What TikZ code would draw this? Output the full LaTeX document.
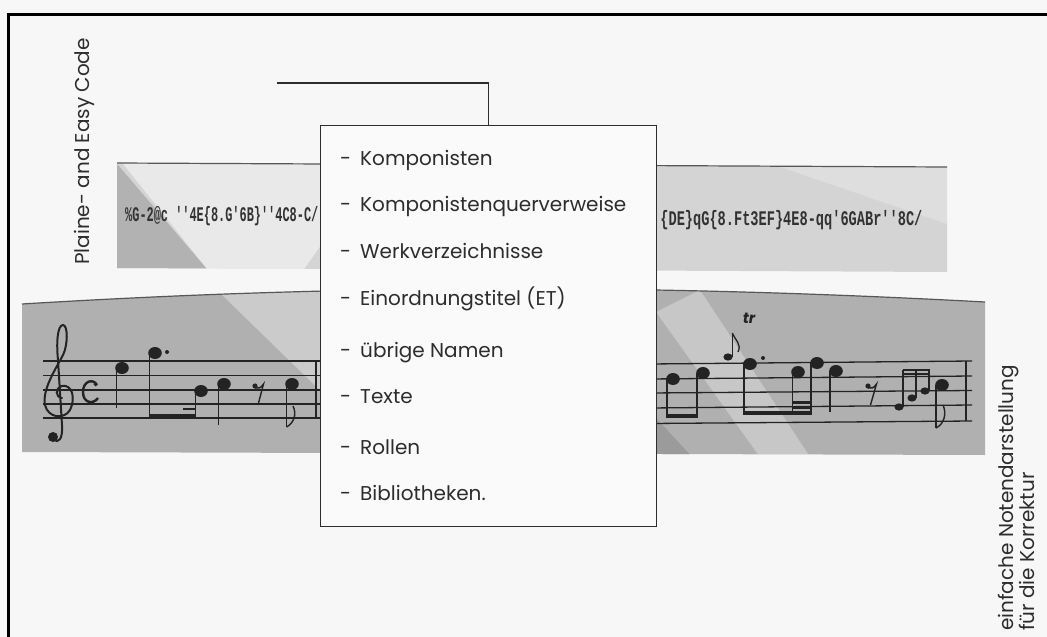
\documentclass[tikz,border=0pt]{standalone}
\usepackage{fontspec}
\usepackage{graphicx}
\setmainfont{Poppins}
\newfontfamily\codefont{Liberation Mono}
\definecolor{bg}{RGB}{247,247,247}
\definecolor{ink}{RGB}{45,45,45}
\definecolor{notec}{RGB}{35,35,35}
\definecolor{codec}{RGB}{50,50,50}
\definecolor{stripA}{RGB}{212,212,212}
\definecolor{stripAdark}{RGB}{178,178,178}
\definecolor{stripB}{RGB}{176,176,176}
\definecolor{stripBdark}{RGB}{155,155,155}
\definecolor{boxfill}{RGB}{250,250,250}
\newcommand\nhead[2]{\fill[notec] (#1,#2) ellipse [x radius=6.8, y radius=6];}
\newcommand\ghead[2]{\fill[notec] (#1,#2) ellipse [x radius=4.6, y radius=3.6];}
\begin{document}
\begin{tikzpicture}[x=1pt,y=-1pt,
  item/.style={anchor=base west, inner sep=0, text=ink, font=\fontsize{20}{22}\selectfont},
  vlabel/.style={anchor=base west, inner sep=0, rotate=90, text=ink, font=\fontsize{20}{22}\selectfont},
  staffline/.style={line width=1.3pt, draw=notec},
  stemline/.style={line width=1.2pt, draw=notec},
  beamline/.style={line width=4pt, draw=notec},
  thinbeam/.style={line width=2.4pt, draw=notec},
  conn/.style={line width=1.3pt, draw=ink},
  codetext/.style={anchor=base west, inner sep=0, text=codec, font=\codefont\bfseries\fontsize{16}{18}\selectfont},
]
\useasboundingbox (0,0) rectangle (1047,637);
\fill[bg] (0,0) rectangle (1047,637);
% frame
\draw[line width=2.8pt, black] (8.7,637) -- (8.7,14.5) -- (1047,14.5);

% ---- code strip ----
\fill[stripA] (117,163) -- (947,167) -- (947,272) -- (117,268) -- cycle;
\begin{scope}
  \clip (117,163) -- (947,167) -- (947,272) -- (117,268) -- cycle;
  \fill[white, opacity=0.5] (120,160) -- (335,160) -- (335,225) -- (300,275) -- (212,275) -- cycle;
  \fill[stripAdark] (110,165) -- (118,165) -- (212,275) -- (110,275) -- cycle;
  \fill[white, opacity=0.25] (760,160) -- (950,160) -- (950,225) -- cycle;
\end{scope}
\draw[line width=1.2pt, draw=ink!80] (117,163) -- (947,167);

% ---- staff strip ----
\fill[stripB] (22,304) .. controls (350,284) and (650,284) .. (985,302) -- (985,455) -- (22,452) -- cycle;
\begin{scope}
  \clip (22,304) .. controls (350,284) and (650,284) .. (985,302) -- (985,455) -- (22,452) -- cycle;
  \fill[white, opacity=0.35] (217,290) -- (335,285) -- (335,405) -- cycle;
  \fill[white, opacity=0.3] (656,312) -- (700,290) -- (812,460) -- (762,460) -- cycle;
  \fill[stripBdark] (656,418) -- (656,460) -- (695,460) -- cycle;
\end{scope}
\draw[line width=1.2pt, draw=ink!80] (22,304) .. controls (350,284) and (650,284) .. (985,302);

% left staff
\foreach \yy in {361,375.5,390,404,418} \draw[staffline] (43,\yy) -- (330,\yy);
\draw[stemline] (316,361) -- (316,418);
% treble clef
\draw[line width=2pt, notec, line cap=round]
  (62,398) .. controls (55,397) and (55,388) .. (62,386)
  .. controls (72,384) and (76,398) .. (70,410)
  .. controls (64,420) and (48,418) .. (45,405)
  .. controls (42,390) and (55,370) .. (63,355)
  .. controls (68,345) and (68,325) .. (63,325)
  .. controls (58,325) and (56,340) .. (58,360)
  -- (62,425) .. controls (63,440) and (58,443) .. (54,440);
\fill[notec] (53,437) circle [radius=5];
% common time
\draw[line width=2.4pt, notec] (97,385) .. controls (93,378) and (83,381) .. (83,392) .. controls (83,403) and (93,405) .. (98,398);
\fill[notec] (95.5,384.5) circle [radius=1.8];
% notes
\nhead{122}{368} \draw[stemline] (116.5,368) -- (116.5,408);
\nhead{155}{353} \fill[notec] (167,352) circle [radius=2];
\draw[stemline] (149.5,353) -- (149.5,418);
\nhead{201}{391} \draw[stemline] (195.5,391) -- (195.5,418);
\draw[beamline] (149,416) -- (196,416);
\draw[thinbeam] (183,409) -- (196,409);
\nhead{224}{384} \draw[stemline] (218.5,384) -- (218.5,425);
% eighth rest
\fill[notec] (255,386) circle [radius=2.6];
\draw[line width=1.4pt, notec] (255,388) .. controls (258,389) and (261,388) .. (263.5,384) -- (258,405);
\nhead{292}{384} \draw[stemline] (286.5,384) -- (286.5,427);
\draw[line width=1.4pt, notec] (286.5,427) .. controls (294,423) and (297,414) .. (293,406);

% right staff
\foreach \ya/\yb in {364/361,379/376,393/390.5,408/405,423.5/421} \draw[staffline] (650,\ya) -- (972,\yb);
\draw[stemline] (966,361) -- (966,421);
\nhead{673}{379} \draw[stemline] (667,379) -- (667,418);
\nhead{703}{373} \draw[stemline] (697,373) -- (697,418);
\draw[beamline] (666.5,416) -- (697.5,416);
% grace eighth
\ghead{728}{357} \draw[stemline] (732.3,357) -- (732.3,333);
\draw[line width=1.3pt, notec] (732.3,333) .. controls (735,340) and (742,344) .. (738,352);
\node[text=notec, inner sep=0, font=\itshape\bfseries\fontsize{15}{15}\selectfont] (tr) at (749,318) {tr};
\nhead{750}{364} \fill[notec] (763,358) circle [radius=2];
\draw[stemline] (744,364) -- (744,415);
\nhead{798}{372} \draw[stemline] (792.5,372) -- (792.5,415);
\nhead{817}{363} \draw[stemline] (811,363) -- (811,415);
\draw[beamline] (743.5,413) -- (811.5,413);
\draw[thinbeam] (792.5,407.5) -- (811.5,407.5);
\draw[thinbeam] (792.5,402.5) -- (811.5,402.5);
\nhead{836}{371} \draw[stemline] (830,371) -- (830,412);
% rest
\fill[notec] (868,386) circle [radius=2.6];
\draw[line width=1.4pt, notec] (868,388) .. controls (871,389) and (874,388) .. (876.5,384) -- (870.5,405);
% grace group
\ghead{899}{407} \draw[stemline] (903,407) -- (903,369.5);
\ghead{912}{398} \draw[stemline] (916,398) -- (916,369.5);
\ghead{925}{391} \draw[stemline] (929,391) -- (929,369.5);
\draw[line width=1.6pt, notec] (902.5,370) -- (929.5,370);
\draw[line width=1.6pt, notec] (902.5,374) -- (929.5,374);
\nhead{942}{385} \draw[stemline] (936,385) -- (936,428);
\draw[line width=1.4pt, notec] (936,428) .. controls (944,424) and (947,414) .. (943,405);

% code texts
\node[codetext] (code1) at (125,221) {\scalebox{0.745}[1.3]{\%G-2@c '{}'4E\{8.G'6B\}'{}'4C8-C/}};
\node[codetext] (code2) at (652,225) {\scalebox{0.853}[1.3]{'\{DE\}qG\{8.Ft3EF\}4E8-qq'6GABr'{}'8C/}};

% box
\node[draw=ink, line width=1.3pt, fill=boxfill, minimum width=336pt, minimum height=401pt, inner sep=0, anchor=north west] (box) at (320,125) {};
\coordinate (lead) at (277,83);
\draw[conn] (lead) -| (box.north);

\node[item] (i1) at (340,165) {-\hspace{9pt}Komponisten};
\node[item] (i2) at (340,211) {-\hspace{9pt}Komponistenquerverweise};
\node[item] (i3) at (340,258) {-\hspace{9pt}Werkverzeichnisse};
\node[item] (i4) at (340,305) {-\hspace{9pt}Einordnungstitel (ET)};
\node[item] (i5) at (340,357) {-\hspace{9pt}übrige Namen};
\node[item] (i6) at (340,403) {-\hspace{9pt}Texte};
\node[item] (i7) at (340,454) {-\hspace{9pt}Rollen};
\node[item] (i8) at (340,500) {-\hspace{9pt}Bibliotheken.};

% vertical labels
\node[vlabel] (lblL) at (89,265) {Plaine- and Easy Code};
\node[vlabel] (lblR1) at (1013,631) {einfache Notendarstellung};
\node[vlabel] (lblR2) at (1034,631) {für die Korrektur};
\end{tikzpicture}
\end{document}
